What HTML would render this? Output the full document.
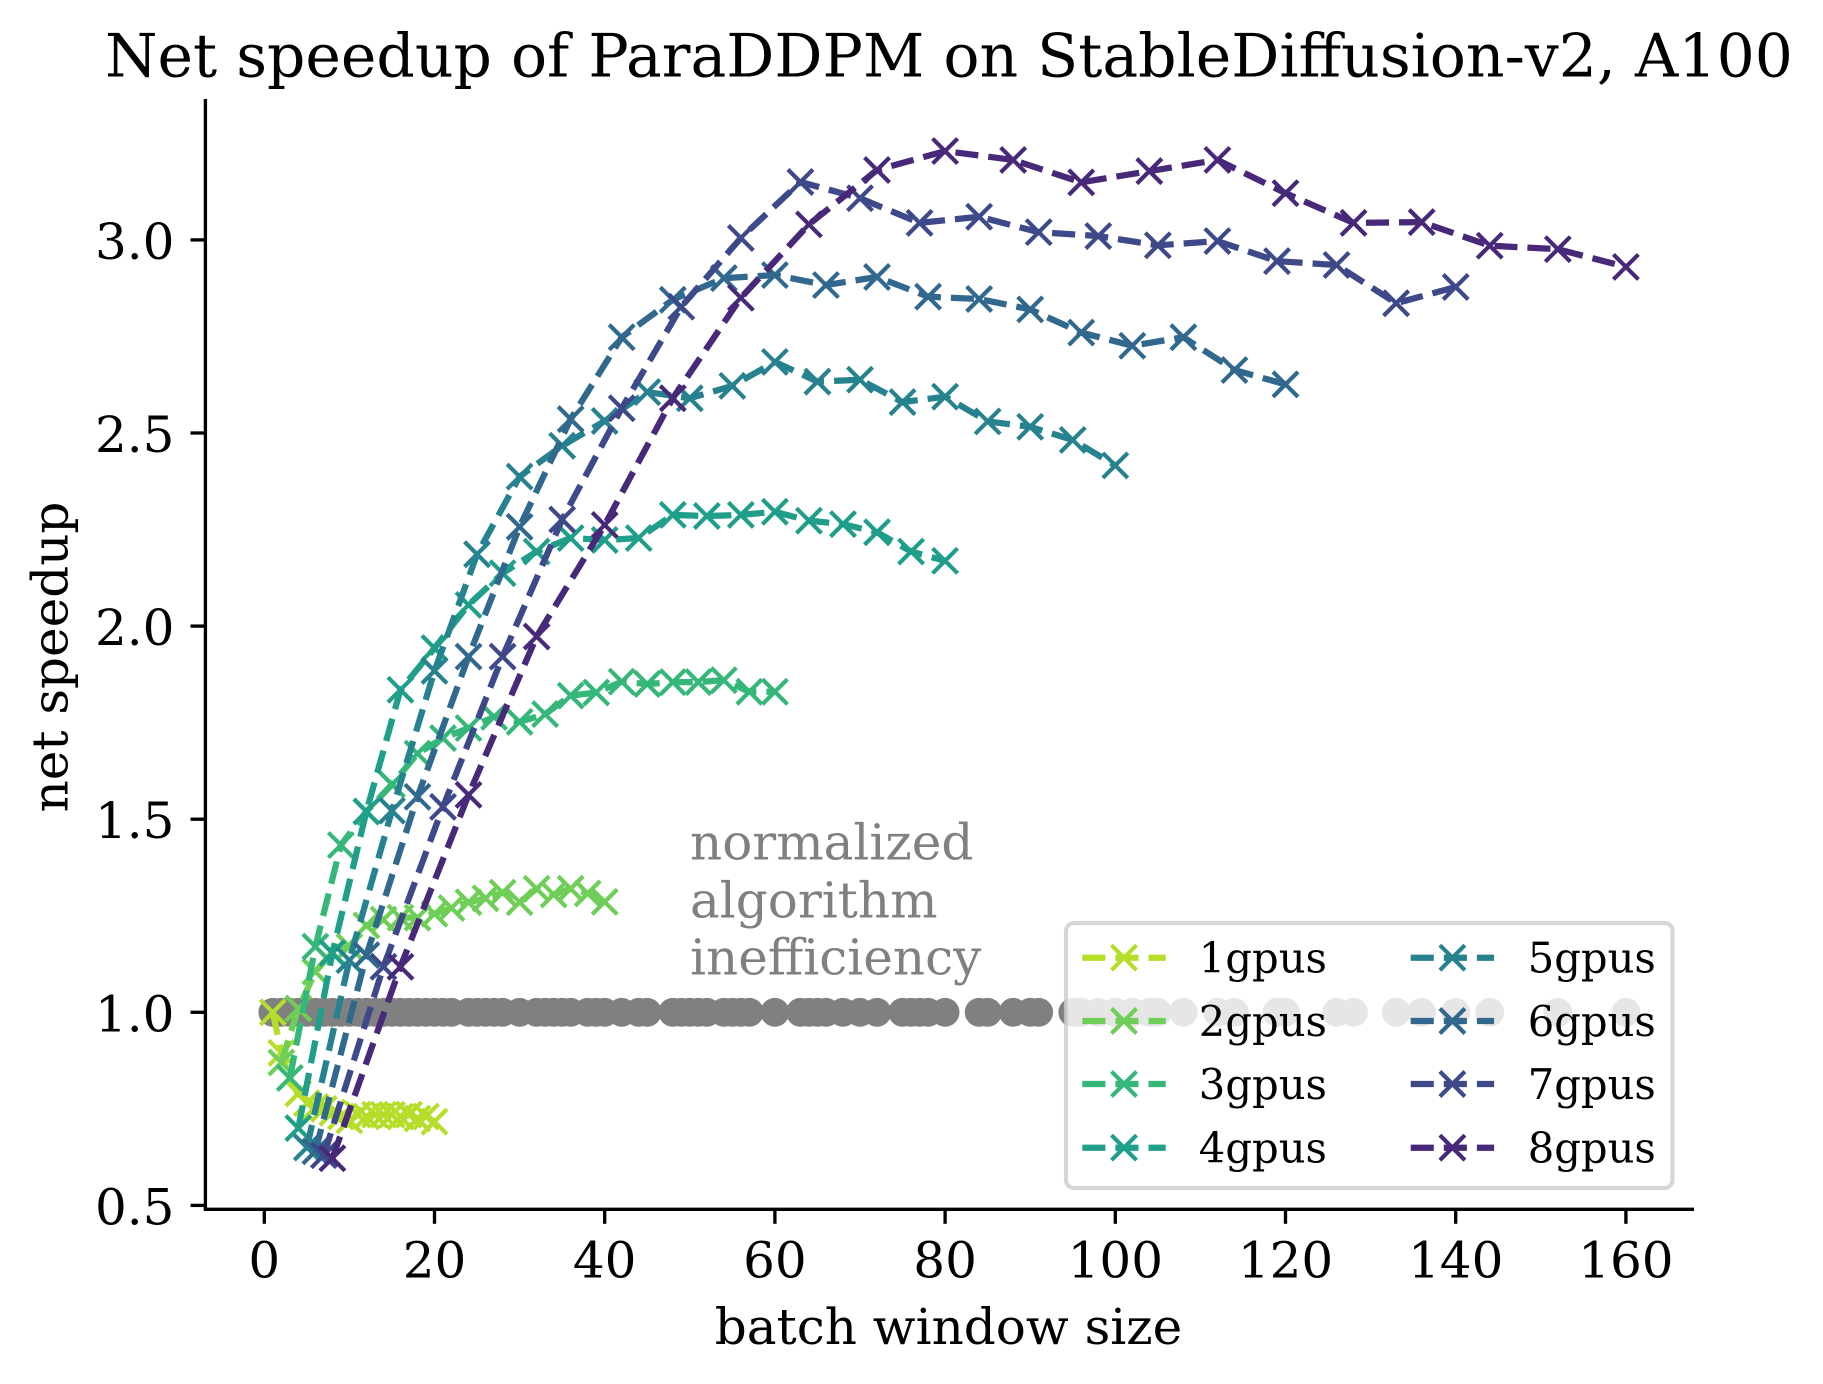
<!DOCTYPE html>
<html>
<head>
<meta charset="utf-8">
<title>Net speedup of ParaDDPM</title>
<style>
html,body{margin:0;padding:0;background:#fff;}
svg{display:block;}
text{font-family:"DejaVu Serif",serif;fill:#000;}
</style>
</head>
<body>
<svg id="chart" xmlns="http://www.w3.org/2000/svg" width="1823" height="1384" viewBox="0 0 1823 1384">
  <rect x="0" y="0" width="1823" height="1384" fill="#ffffff"/>
  <g id="gray-layer"></g>
  <g id="series-layer"></g>
  <g id="axes-layer"></g>
  <text x="105" y="76.5" font-size="60">Net speedup of ParaDDPM on StableDiffusion-v2, A100</text>
  <text x="948.5" y="1344" font-size="50" text-anchor="middle">batch window size</text>
  <text transform="translate(67.5,657) rotate(-90)" font-size="50" text-anchor="middle">net speedup</text>
  <g>
    <text x="690" y="859.5" font-size="50" style="fill:#808080">normalized</text>
    <text x="690" y="917.5" font-size="50" style="fill:#808080">algorithm</text>
    <text x="690" y="974.5" font-size="50" style="fill:#808080">inefficiency</text>
  </g>
  <g id="legend-layer">
    <rect x="1066" y="923" width="606.5" height="265" rx="8" ry="8" fill="#ffffff" fill-opacity="0.8" stroke="#cccccc" stroke-opacity="0.8" stroke-width="4.17"/>
  </g>
</svg>
<script>
var xTickLabels = [0, 20, 40, 60, 80, 100, 120, 140, 160];
var yTickLabels = ["0.5", "1.0", "1.5", "2.0", "2.5", "3.0"];
var seriesNames = ["1gpus", "2gpus", "3gpus", "4gpus", "5gpus", "6gpus", "7gpus", "8gpus"];
var seriesColors = ["#b5de2b", "#6ece58", "#35b779", "#1f9e89", "#26828e", "#31688e", "#3e4989", "#482878"];

var x1 = [1,2,3,4,5,6,7,8,9,10,11,12,13,14,15,16,17,18,19,20];
var y1 = [1.0,0.895,0.83,0.79,0.765,0.755,0.75,0.74,0.73,0.72,0.735,0.73,0.735,0.735,0.735,0.73,0.735,0.725,0.73,0.717];
var x2 = [2,4,6,8,10,12,14,16,18,20,22,24,26,28,30,32,34,36,38,40];
var y2 = [0.87,1.01,1.105,1.155,1.17,1.225,1.24,1.245,1.245,1.255,1.27,1.285,1.295,1.31,1.285,1.32,1.305,1.32,1.308,1.286];
var x3 = [3,6,9,12,15,18,21,24,27,30,33,36,39,42,45,48,51,54,57,60];
var y3 = [0.83,1.17,1.433,1.52,1.59,1.67,1.71,1.736,1.765,1.752,1.772,1.82,1.828,1.856,1.85,1.855,1.855,1.86,1.83,1.83];
var x4 = [4,8,12,16,20,24,28,32,36,40,44,48,52,56,60,64,68,72,76,80];
var y4 = [0.70,1.153,1.52,1.835,1.943,2.055,2.137,2.193,2.228,2.223,2.228,2.288,2.285,2.288,2.296,2.273,2.264,2.243,2.193,2.169];
var x5 = [5,10,15,20,25,30,35,40,45,50,55,60,65,70,75,80,85,90,95,100];
var y5 = [0.65,1.135,1.522,1.884,2.186,2.387,2.467,2.531,2.606,2.59,2.622,2.684,2.633,2.638,2.58,2.594,2.53,2.516,2.482,2.416];
var x6 = [6,12,18,24,30,36,42,48,54,60,66,72,78,84,90,96,102,108,114,120];
var y6 = [0.64,1.148,1.558,1.921,2.257,2.536,2.748,2.845,2.901,2.909,2.883,2.904,2.853,2.847,2.82,2.76,2.726,2.748,2.663,2.626];
var x7 = [7,14,21,28,35,42,49,56,63,70,77,84,91,98,105,112,119,126,133,140];
var y7 = [0.63,1.118,1.532,1.921,2.276,2.564,2.827,3.005,3.15,3.108,3.044,3.06,3.02,3.01,2.986,2.997,2.945,2.935,2.836,2.878];
var x8 = [8,16,24,32,40,48,56,64,72,80,88,96,104,112,120,128,136,144,152,160];
var y8 = [0.622,1.118,1.563,1.973,2.262,2.59,2.85,3.04,3.181,3.23,3.207,3.149,3.178,3.207,3.121,3.044,3.046,2.985,2.976,2.93];
var baselineX = [1,2,3,4,5,6,7,8,9,10,11,12,13,14,15,16,17,18,19,20,21,22,24,25,26,27,28,30,32,33,34,35,36,38,39,40,42,44,45,48,49,50,51,52,54,55,56,57,60,63,64,65,66,68,70,72,75,76,77,78,80,84,85,88,90,91,95,96,98,100,102,104,105,108,112,114,119,120,126,128,133,136,140,144,152,160];
var baselineY = 1.0;

var xSeries = [x1, x2, x3, x4, x5, x6, x7, x8];
var ySeries = [y1, y2, y3, y4, y5, y6, y7, y8];

function xScale(v) { return 264.3 + 8.51 * v; }
function yScale(v) { return 1012.3 - 386.2 * (v - 1); }

var NS = "http://www.w3.org/2000/svg";
function mk(tag, parent) {
  var el = document.createElementNS(NS, tag);
  parent.appendChild(el);
  return el;
}
function markerPath(cx, cy) {
  var h = 12.5;
  return "M" + (cx - h) + " " + (cy - h) + "L" + (cx + h) + " " + (cy + h) +
         "M" + (cx - h) + " " + (cy + h) + "L" + (cx + h) + " " + (cy - h);
}

var grayLayer = document.getElementById("gray-layer");
baselineX.forEach(function (v) {
  var c = mk("circle", grayLayer);
  
  
  c.setAttribute("cx", xScale(v));
  c.setAttribute("cy", yScale(baselineY));
  c.setAttribute("r", 14.4);
  c.setAttribute("fill", "#808080");
});

var seriesLayer = document.getElementById("series-layer");
seriesNames.forEach(function (name, i) {
  var g = mk("g", seriesLayer);
  
  
  var pts = xSeries[i].map(function (xv, j) {
    return xScale(xv) + "," + yScale(ySeries[i][j]);
  }).join(" ");
  var line = mk("polyline", g);
  
  
  line.setAttribute("points", pts);
  line.setAttribute("fill", "none");
  line.setAttribute("stroke", seriesColors[i]);
  line.setAttribute("stroke-width", 6.25);
  line.setAttribute("stroke-dasharray", "23.1 10");
  line.setAttribute("stroke-linejoin", "round");
  xSeries[i].forEach(function (xv, j) {
    var m = mk("path", g);
    
    
    m.setAttribute("d", markerPath(xScale(xv), yScale(ySeries[i][j])));
    m.setAttribute("fill", "none");
    m.setAttribute("stroke", seriesColors[i]);
    m.setAttribute("stroke-width", 4.17);
  });
});

var axes = document.getElementById("axes-layer");
function axisLine(x1v, y1v, x2v, y2v, name) {
  var l = mk("line", axes);
  
  
  l.setAttribute("x1", x1v);
  l.setAttribute("y1", y1v);
  l.setAttribute("x2", x2v);
  l.setAttribute("y2", y2v);
  l.setAttribute("stroke", "#000");
  l.setAttribute("stroke-width", 3.33);
}
axisLine(205.4, 99, 205.4, 1210.9, "y-axis-spine");
axisLine(203.8, 1209.3, 1694, 1209.3, "x-axis-spine");
xTickLabels.forEach(function (v) {
  axisLine(xScale(v), 1209.3, xScale(v), 1223.8, "x-tick");
  var t = mk("text", axes);
  
  
  t.setAttribute("x", xScale(v));
  t.setAttribute("y", 1277.3);
  t.setAttribute("font-size", 50);
  t.setAttribute("text-anchor", "middle");
  t.textContent = String(v);
});
yTickLabels.forEach(function (s) {
  var v = parseFloat(s);
  axisLine(190.5, yScale(v), 205.4, yScale(v), "y-tick");
  var t = mk("text", axes);
  
  
  t.setAttribute("x", 174.5);
  t.setAttribute("y", yScale(v) + 19);
  t.setAttribute("font-size", 50);
  t.setAttribute("text-anchor", "end");
  t.textContent = s;
});

var legend = document.getElementById("legend-layer");
var legendRowY = [957.7, 1021, 1084, 1147.7];
var legendColX = [1082.3, 1410.7];
seriesNames.forEach(function (name, i) {
  var col = Math.floor(i / 4);
  var row = i % 4;
  var lx = legendColX[col];
  var ly = legendRowY[row];
  var labelOffset = col === 0 ? 116.5 : 117;
  var g = mk("g", legend);
  
  
  var l = mk("line", g);
  
  
  l.setAttribute("x1", lx);
  l.setAttribute("y1", ly);
  l.setAttribute("x2", lx + 83.4);
  l.setAttribute("y2", ly);
  l.setAttribute("stroke", seriesColors[i]);
  l.setAttribute("stroke-width", 6.25);
  l.setAttribute("stroke-dasharray", "23.1 10");
  var m = mk("path", g);
  
  
  m.setAttribute("d", markerPath(lx + 41.7, ly));
  m.setAttribute("fill", "none");
  m.setAttribute("stroke", seriesColors[i]);
  m.setAttribute("stroke-width", 4.17);
  var t = mk("text", g);
  
  
  t.setAttribute("x", lx + labelOffset);
  t.setAttribute("y", ly + 15);
  t.setAttribute("font-size", 41.7);
  t.textContent = name;
});
</script>
</body>
</html>
